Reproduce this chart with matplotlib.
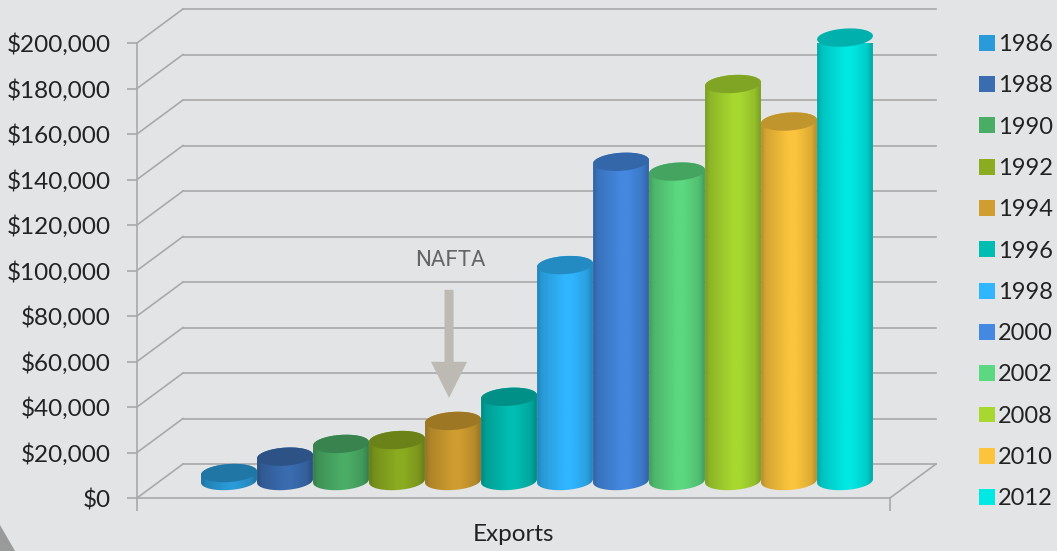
import matplotlib
matplotlib.use('Agg')
import matplotlib.pyplot as plt
import numpy as np
from matplotlib.patches import Patch, PathPatch, Polygon
from matplotlib.path import Path
from matplotlib.ticker import FuncFormatter
from matplotlib.transforms import IdentityTransform

years = ['1986', '1988', '1990', '1992', '1994', '1996', '1998', '2000', '2002', '2008', '2010', '2012']
exports = [3500, 10700, 16300, 18000, 26400, 37000, 94900, 140300, 136000, 174500, 158000, 194900]
colors = ['#2a9bd8', '#3a6cb0', '#4aad66', '#8bab20', '#cf9d30', '#00bdb2',
	'#30b6ff', '#4488e0', '#5cd880', '#a8d830', '#fcc43c', '#00e8e4']
y_ticks = list(range(0, 200001, 20000))

BG = '#e2e4e5'
GRID = '#a9a9a9'
TEXT = '#222222'
W, H = 1057, 551
DEPTH_X, DEPTH_Y = 46, 34
FONT = 'Lato'

plt.rcParams['font.family'] = FONT

fig = plt.figure(figsize=(W / 100, H / 100), dpi=100, facecolor=BG)
ax = fig.add_axes([137 / W, 1 - 498 / H, 753 / W, 455 / H])
ax.set_facecolor('none')
ax.set_xlim(-1.232, 12.214)
ax.set_ylim(0, 200000)

screen = IdentityTransform()


def to_px(x, y):
	return ax.transData.transform((x, y))


def screen_line(p, q, z=1):
	ax.plot([p[0], q[0]], [p[1], q[1]], color=GRID, lw=1.2, transform=screen, clip_on=False, zorder=z)


def ellipse_points(cx, cy, a, b, start, stop, tilt=np.radians(4)):
	t = np.linspace(start, stop, 60)
	x = a * np.cos(t)
	y = b * np.sin(t)
	return np.column_stack([cx + x * np.cos(tilt) - y * np.sin(tilt), cy + x * np.sin(tilt) + y * np.cos(tilt)])


def draw_cylinder(i, value, color):
	x_c, y_top = to_px(i, value)
	y_base = to_px(i, 0)[1]
	x_c += DEPTH_X / 2
	y_top += DEPTH_Y / 2
	y_base += DEPTH_Y / 2
	a, b = 28, 9
	base = np.array(matplotlib.colors.to_rgb(color))
	body = np.vstack([ellipse_points(x_c, y_base, a, b, np.pi, 2 * np.pi),
		ellipse_points(x_c, y_top, a, b, 0, np.pi)])
	# horizontal shading of the round side
	s = np.linspace(0, 1, 120)
	shade = np.interp(s, [0, 0.1, 0.5, 0.62, 0.88, 1], [0.7, 0.84, 1.0, 1.0, 0.88, 0.7])
	grad = np.clip(base[None, None, :] * shade[None, :, None], 0, 1)
	clip = PathPatch(Path(np.vstack([body, body[0]]), closed=True), transform=screen, fc='none', ec='none')
	ax.add_patch(clip)
	im = ax.imshow(grad, extent=[x_c - a - 1, x_c + a + 1, y_base - b - 5, y_top + b + 5], transform=screen,
		aspect='auto', interpolation='bilinear', zorder=3 + i * 0.01)
	im.set_clip_path(clip)
	top = ellipse_points(x_c, y_top, a, b, 0, 2 * np.pi)
	ax.add_patch(Polygon(top, closed=True, transform=screen, fc=base * 0.76, ec='none', clip_on=False, zorder=3 + i * 0.01 + 0.005))


# back wall, side wall and floor built from the value scale
x_left, x_right = ax.get_xlim()
for v in y_ticks:
	p = to_px(x_left, v)
	back = p + (DEPTH_X, DEPTH_Y)
	screen_line(p, back)
	screen_line(back, to_px(x_right, v) + (DEPTH_X, DEPTH_Y))
floor_right = to_px(x_right, 0)
screen_line(floor_right, floor_right + (DEPTH_X, DEPTH_Y))

for i, (value, color) in enumerate(zip(exports, colors)):
	draw_cylinder(i, value, color)
ax.set_xlim(x_left, x_right)
ax.set_ylim(0, 200000)

for name in ['top', 'right']:
	ax.spines[name].set_visible(False)
for name in ['left', 'bottom']:
	ax.spines[name].set_color(GRID)
	ax.spines[name].set_linewidth(1.2)
ax.set_yticks(y_ticks)
ax.yaxis.set_major_formatter(FuncFormatter(lambda v, pos: '${:,.0f}'.format(v)))
ax.set_xticks([x_left, x_right])
ax.set_xticklabels([])
ax.tick_params(axis='y', length=7, width=1.2, color=GRID, labelcolor=TEXT, labelsize=17.5, pad=12)
ax.tick_params(axis='x', length=9, width=1.2, color=GRID)
ax.set_xlabel('Exports', fontsize=17.5, color=TEXT, labelpad=6)

ax.text(4.36, 104600, 'NAFTA', fontsize=16, color='#666666', ha='center', va='center', family='Roboto', zorder=6)
ax.annotate('', xy=(4.34, 44000), xytext=(4.34, 91500), zorder=2,
	arrowprops=dict(arrowstyle='simple,head_length=26,head_width=26,tail_width=6.5', mutation_scale=1,
		shrinkA=0, shrinkB=0, fc='#bdb9b3', ec='none'))

handles = [Patch(facecolor=c, edgecolor='none', label=y) for c, y in zip(colors, years)]
fig.legend(handles=handles, loc='upper left', bbox_to_anchor=(979 / W, 1 - 34 / H), frameon=False, fontsize=17,
	labelcolor=TEXT, handlelength=0.66, handleheight=0.66, handletextpad=0.14, labelspacing=0.86,
	borderpad=0, borderaxespad=0)

# grey corner at the lower left of the slide
fig.add_artist(Polygon([(0, 0), (15 / W, 0), (0, 26 / H)], closed=True, transform=fig.transFigure, fc='#9a9a9a', ec='none'))

fig.savefig('out.png', dpi=100, facecolor=BG)
